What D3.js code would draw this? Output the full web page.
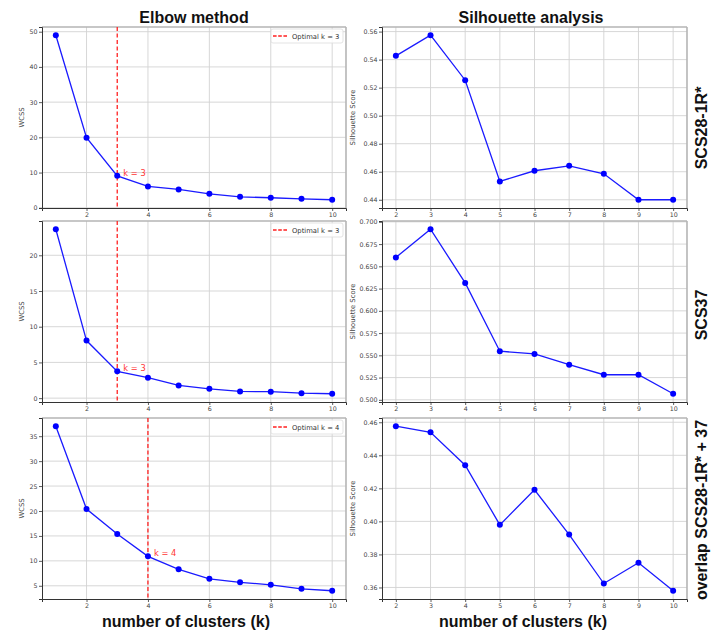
<!DOCTYPE html>
<html>
<head>
<meta charset="utf-8">
<script src="https://cdn.jsdelivr.net/npm/d3@7"></script>
<style>
  body { margin: 0; background: #fff; }
  text { font-family: "DejaVu Sans", sans-serif; }
  .big { font-family: "Liberation Sans", Arial, sans-serif; font-weight: bold; fill: #111; }
</style>
</head>
<body>
<svg id="chart"></svg>
<script>
// values
var kElbow = [1, 2, 3, 4, 5, 6, 7, 8, 9, 10];
var kSil = [2, 3, 4, 5, 6, 7, 8, 9, 10];

var wcss28 = [49.0, 19.9, 9.07, 6.05, 5.2, 3.97, 3.1, 2.84, 2.55, 2.27];
var wcss37 = [23.65, 8.06, 3.75, 2.86, 1.78, 1.31, 0.94, 0.9, 0.7, 0.61];
var wcssOverlap = [37.0, 20.4, 15.4, 10.9, 8.3, 6.4, 5.7, 5.2, 4.4, 4.0];

var sil28 = [0.5427, 0.5574, 0.5253, 0.4531, 0.4607, 0.4642, 0.4585, 0.44, 0.44];
var sil37 = [0.660, 0.6917, 0.6314, 0.5546, 0.5516, 0.5395, 0.5282, 0.5282, 0.5068];
var silOverlap = [0.4576, 0.4539, 0.434, 0.3979, 0.4191, 0.392, 0.3624, 0.375, 0.358];

var optimalK = [3, 3, 4];
var rowLabels = ['SCS28-1R*', 'SCS37', 'overlap SCS28-1R* + 37'];

var elbowXTicks = [2, 4, 6, 8, 10];
var silXTicks = [2, 3, 4, 5, 6, 7, 8, 9, 10];
var elbowYTicks = [[0, 10, 20, 30, 40, 50], [0, 5, 10, 15, 20], [5, 10, 15, 20, 25, 30, 35]];
var silYTicks = [
  [0.44, 0.46, 0.48, 0.50, 0.52, 0.54, 0.56],
  [0.500, 0.525, 0.550, 0.575, 0.600, 0.625, 0.650, 0.675, 0.700],
  [0.36, 0.38, 0.40, 0.42, 0.44, 0.46]
];
var silYFormat = ['.2f', '.3f', '.2f'];

var width = 713, height = 631;
var svg = d3.select('#chart').attr('width', width).attr('height', height);

var colLeft = [42, 346];
var colRight = [382, 687];
var rows = [[27, 208], [221, 402], [418, 599]];

function padded(ext) {
  var d = (ext[1] - ext[0]) * 0.05;
  return [ext[0] - d, ext[1] + d];
}

function drawPanel(o) {
  var g = svg.append('g');
  var x = d3.scaleLinear().domain(padded(d3.extent(o.xs))).range(o.xr);
  var y = d3.scaleLinear().domain(padded(d3.extent(o.ys))).range([o.yr[1], o.yr[0]]);

  // grid
  g.selectAll('line.vg').data(o.xTicks).join('line')
      .attr('x1', d => x(d)).attr('x2', d => x(d))
      .attr('y1', o.yr[0]).attr('y2', o.yr[1])
      .attr('stroke', '#d2d2d2').attr('stroke-width', 0.9);
  g.selectAll('line.hg').data(o.yTicks).join('line')
      .attr('y1', d => y(d)).attr('y2', d => y(d))
      .attr('x1', o.xr[0]).attr('x2', o.xr[1])
      .attr('stroke', '#d2d2d2').attr('stroke-width', 0.9);

  // spines
  g.append('line').attr('x1', o.xr[0]).attr('x2', o.xr[1]).attr('y1', o.yr[0]).attr('y2', o.yr[0])
      .attr('stroke', '#b5b5b5').attr('stroke-width', 1.6);
  g.append('line').attr('x1', o.xr[1]).attr('x2', o.xr[1]).attr('y1', o.yr[0]).attr('y2', o.yr[1])
      .attr('stroke', '#b5b5b5').attr('stroke-width', 1.6);

  var xAxis = g.append('g').attr('transform', 'translate(0,' + o.yr[1] + ')')
      .call(d3.axisBottom(x).tickValues(o.xTicks).tickSize(3).tickPadding(2).tickFormat(d3.format('d')));
  var yAxis = g.append('g').attr('transform', 'translate(' + o.xr[0] + ',0)')
      .call(d3.axisLeft(y).tickValues(o.yTicks).tickSize(3).tickPadding(1.5).tickFormat(d3.format(o.yFmt)));
  [xAxis, yAxis].forEach(function(a) {
    a.select('.domain').attr('stroke', '#333').attr('stroke-width', 1);
    a.selectAll('.tick line').attr('stroke', '#333').attr('stroke-width', 0.8);
    a.selectAll('.tick text').attr('fill', '#444').style('font-size', '6.3px')
        .style('font-family', '"DejaVu Sans", sans-serif');
  });

  // y label
  g.append('text')
      .attr('transform', 'translate(' + o.yLabelX + ',' + ((o.yr[0] + o.yr[1]) / 2) + ') rotate(-90)')
      .attr('text-anchor', 'middle').attr('fill', '#444').style('font-size', '6.8px')
      .text(o.yLabel);

  // optimal k marker
  if (o.optK != null) {
    g.append('line').attr('x1', x(o.optK)).attr('x2', x(o.optK))
        .attr('y1', o.yr[0]).attr('y2', o.yr[1])
        .attr('stroke', '#ff2020').attr('stroke-width', 1.3).attr('stroke-dasharray', '4,2.5');
  }

  var pts = o.xs.map((k, i) => [k, o.ys[i]]);
  g.append('path').datum(pts)
      .attr('d', d3.line().x(d => x(d[0])).y(d => y(d[1])))
      .attr('fill', 'none').attr('stroke', '#1a1aff').attr('stroke-width', 1.3);
  g.selectAll('circle').data(pts).join('circle')
      .attr('cx', d => x(d[0])).attr('cy', d => y(d[1])).attr('r', 3)
      .attr('fill', '#0000ff');

  if (o.optK != null) {
    var yk = o.ys[o.xs.indexOf(o.optK)];
    g.append('text').attr('x', x(o.optK + 0.2)).attr('y', y(yk))
        .attr('fill', '#ff3333').style('font-size', '8.3px')
        .text('k = ' + o.optK);

    // legend
    var lx = o.xr[1] - 75, ly = o.yr[0] + 2;
    g.append('rect').attr('x', lx).attr('y', ly).attr('width', 72).attr('height', 14).attr('rx', 2)
        .attr('fill', '#fff').attr('fill-opacity', 0.85).attr('stroke', '#dcdcdc').attr('stroke-width', 0.8);
    g.append('line').attr('x1', lx + 2).attr('x2', lx + 16).attr('y1', ly + 7).attr('y2', ly + 7)
        .attr('stroke', '#ff2020').attr('stroke-width', 1.3).attr('stroke-dasharray', '3.6,1.6');
    g.append('text').attr('x', lx + 21).attr('y', ly + 9.5)
        .attr('fill', '#333').style('font-size', '6.8px')
        .text('Optimal k = ' + o.optK);
  }
}

var elbowData = [wcss28, wcss37, wcssOverlap];
var silData = [sil28, sil37, silOverlap];

rows.forEach(function(r, i) {
  drawPanel({xs: kElbow, ys: elbowData[i], xr: colLeft, yr: r, xTicks: elbowXTicks,
             yTicks: elbowYTicks[i], yFmt: 'd', yLabel: 'WCSS', yLabelX: 24, optK: optimalK[i]});
  drawPanel({xs: kSil, ys: silData[i], xr: colRight, yr: r, xTicks: silXTicks,
             yTicks: silYTicks[i], yFmt: silYFormat[i], yLabel: 'Silhouette Score', yLabelX: 355, optK: null});
});

// titles
svg.append('text').attr('class', 'big').attr('x', 194).attr('y', 23)
    .attr('text-anchor', 'middle').style('font-size', '16px').text('Elbow method');
svg.append('text').attr('class', 'big').attr('x', 531).attr('y', 23)
    .attr('text-anchor', 'middle').style('font-size', '16px').text('Silhouette analysis');

svg.append('text').attr('class', 'big').attr('x', 186).attr('y', 627)
    .attr('text-anchor', 'middle').style('font-size', '16px').text('number of clusters (k)');
svg.append('text').attr('class', 'big').attr('x', 523).attr('y', 627)
    .attr('text-anchor', 'middle').style('font-size', '16px').text('number of clusters (k)');

var rowCenters = [128, 315, 510];
svg.selectAll('text.rowlab').data(rowLabels).join('text')
    .attr('class', 'big rowlab')
    .attr('transform', (d, i) => 'translate(707,' + rowCenters[i] + ') rotate(-90)')
    .attr('text-anchor', 'middle').style('font-size', '16px')
    .text(d => d);
</script>
</body>
</html>
